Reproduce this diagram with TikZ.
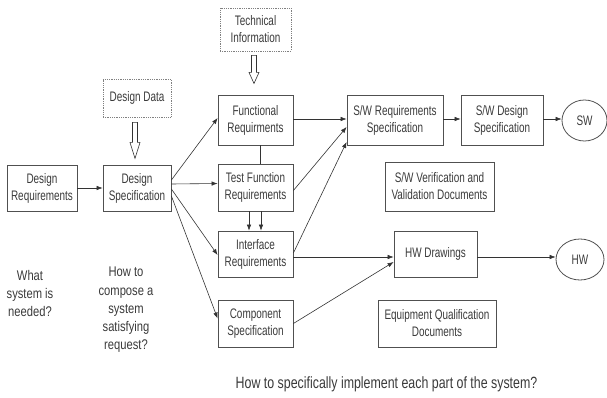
\documentclass[tikz,border=0pt]{standalone}
\usepackage{fontspec}
\setmainfont{Liberation Sans}[FakeStretch=0.72]
\newfontfamily\qfont{Liberation Sans}[FakeStretch=0.8]
\newfontfamily\bfont{Liberation Sans}[FakeStretch=0.76]
\usetikzlibrary{calc,arrows.meta,shapes.geometric}
\definecolor{ink}{HTML}{3A3A3A}
\definecolor{edge}{HTML}{505050}
\tikzset{
  box/.style={draw=edge, line width=0.8pt, rectangle, align=center, inner sep=0pt, text=ink, font=\fontsize{13.8}{17}\selectfont},
  dbox/.style={box, draw=gray, densely dotted, line width=0.9pt},
  oval/.style={draw=edge, line width=0.8pt, ellipse, inner sep=0pt, text=ink, font=\fontsize{13.8}{17}\selectfont},
  qtext/.style={align=center, text=ink, inner sep=0pt, font=\qfont\fontsize{14}{18.2}\selectfont},
  btext/.style={align=center, text=ink, inner sep=0pt, font=\bfont\fontsize{16.3}{19}\selectfont},
  conn/.style={draw=black!80, line width=0.6pt, -{Latex[length=6pt,width=4.5pt]}},
  plain/.style={draw=black!80, line width=0.6pt},
  hollow/.style={draw=black!80, line width=0.6pt, fill=white},
}
\begin{document}
\begin{tikzpicture}[x=1pt,y=-1pt]
\useasboundingbox (0,0) rectangle (607,398);
% nodes
\node[box, minimum width=70, minimum height=46] (dreq) at (42,188) {Design\\Requirements};
\node[box, minimum width=68, minimum height=46] (dspec) at (137,188) {Design\\Specification};
\node[dbox, minimum width=68, minimum height=38] (ddata) at (137,98) {Design Data};
\node[dbox, minimum width=71, minimum height=43] (tinfo) at (255.5,29.5) {Technical\\Information};
\node[box, minimum width=75, minimum height=50] (func) at (255.5,120) {Functional\\Requirments};
\node[box, minimum width=75, minimum height=47] (test) at (255.5,187.5) {Test Function\\Requirements};
\node[box, minimum width=75, minimum height=46] (intf) at (255.5,254) {Interface\\Requirements};
\node[box, minimum width=75, minimum height=47] (comp) at (255.5,323.5) {Component\\Specification};
\node[box, minimum width=96, minimum height=50] (swreq) at (395,120) {S/W Requirements\\Specification};
\node[box, minimum width=82, minimum height=50] (swdes) at (502,120) {S/W Design\\Specification};
\node[oval, minimum width=45, minimum height=41] (sw) at (584.5,120.5) {SW};
\node[box, minimum width=109, minimum height=49] (vv) at (439.5,186.5) {S/W Verification and\\Validation Documents};
\node[box, minimum width=83, minimum height=46] (hwd) at (435.5,254) {HW Drawings};
\node[oval, minimum width=48, minimum height=41] (hw) at (580,259.5) {HW};
\node[box, minimum width=118, minimum height=47] (eqd) at (437,323.5) {Equipment Qualification\\Documents};
\node[qtext] (q1) at (30,293.5) {What\\system is\\needed?};
\node[qtext] (q2) at (126,310) {How to\\compose a\\system\\satisfying\\request?};
\node[btext] (q3) at (386.5,384) {How to specifically implement each part of the system?};
% hollow arrows
\draw[hollow] ($(ddata.south)+(-4.5,5)$) -- ++(0,20) -- ++(-2.5,0) -- ++(5,16) -- ++(5,-16) -- ++(-2.5,0) -- ++(0,-20) -- cycle;
\draw[hollow] ($(tinfo.south)+(-4,4)$) -- ++(0,17) -- ++(-2.5,0) -- ++(5,11) -- ++(5,-11) -- ++(-2.5,0) -- ++(0,-17) -- cycle;
% connectors
\draw[conn] (dreq.east) -- (dspec.west);
\draw[conn] ($(dspec.east)+(0,-8)$) -- ($(func.west)+(0,-2)$);
\draw[conn] ($(dspec.east)+(0,-4)$) -- ($(test.west)+(0,-4)$);
\draw[conn] ($(dspec.east)+(0,1)$) -- ($(intf.west)+(0,1)$);
\draw[conn] ($(dspec.east)+(0,8)$) -- ($(comp.west)+(0,-5)$);
\draw[plain] ($(func.south)+(4.5,0)$) -- ($(test.north)+(4.5,0)$);
\draw[conn] ($(test.south)+(-6.5,0)$) -- ($(intf.north)+(-6.5,0)$);
\draw[conn] ($(test.south)+(5.5,0)$) -- ($(intf.north)+(5.5,0)$);
\draw[conn] ($(func.east)+(0,-1)$) -- ($(swreq.west)+(0,-1)$);
\draw[conn] ($(test.east)+(0,3)$) -- ($(swreq.west)+(0,7)$);
\draw[conn] ($(intf.east)+(0,-1)$) -- ($(swreq.west)+(0,22)$);
\draw[conn] ($(intf.east)+(0,3)$) -- ($(hwd.west)+(0,3)$);
\draw[conn] ($(comp.east)+(0,0)$) -- ($(hwd.west)+(0,8)$);
\draw[conn] ($(swreq.east)+(0,-1)$) -- ($(swdes.west)+(0,-1)$);
\draw[conn] ($(swdes.east)+(0,-1)$) -- ($(sw.west)+(0,-1.5)$);
\draw[conn] ($(hwd.east)+(0,3)$) -- ($(hw.west)+(0,-2.5)$);
\end{tikzpicture}
\end{document}
